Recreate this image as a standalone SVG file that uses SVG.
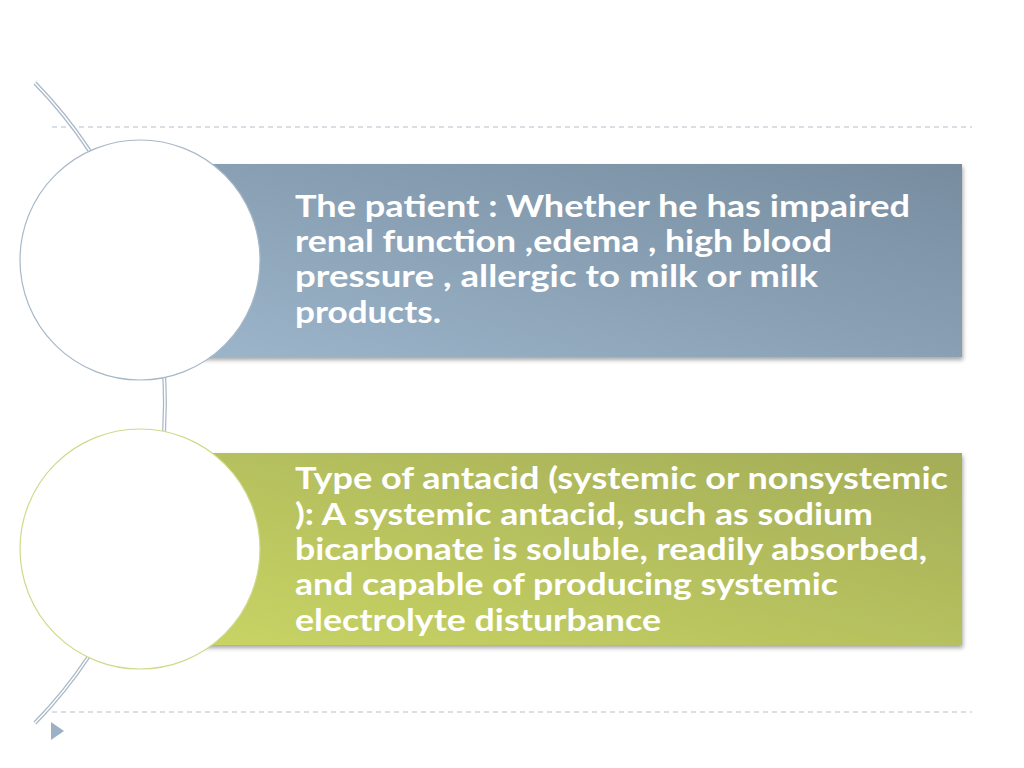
<svg xmlns="http://www.w3.org/2000/svg" width="1024" height="768" viewBox="0 0 1024 768">
<defs>
<linearGradient id="gb" x1="1" y1="0" x2="0" y2="1"><stop offset="0" stop-color="#778c9f"/><stop offset="1" stop-color="#9cb5ca"/></linearGradient>
<linearGradient id="gg" x1="1" y1="0" x2="0" y2="1"><stop offset="0" stop-color="#a4ad58"/><stop offset="1" stop-color="#c8d464"/></linearGradient>
<filter id="sh" x="-5%" y="-5%" width="110%" height="120%"><feDropShadow dx="1" dy="3" stdDeviation="2" flood-color="#000" flood-opacity="0.35"/></filter>
<style>
.t{font-family:Lato,"Open Sans","Liberation Sans",sans-serif;font-weight:bold;font-size:30px;fill:#fff}
.dash{stroke:#b4bfcc;stroke-width:1.2;stroke-dasharray:5 4;fill:none}
</style>
</defs>
<rect width="1024" height="768" fill="#fff"/>
<line class="dash" x1="52" y1="127" x2="972" y2="127"/>
<line class="dash" x1="52" y1="712" x2="972" y2="712"/>
<polygon points="51,722 64,731 51,740" fill="#9cb0c6"/>
<g id="connectors">
<path d="M35,83 A459,459 0 0 1 35,723" fill="none" stroke="#a9b8c8" stroke-width="4"/>
<path d="M35,83 A459,459 0 0 1 35,723" fill="none" stroke="#fff" stroke-width="1.5"/>
</g>
<g id="node1">
<rect x="200" y="164" width="762" height="193" fill="url(#gb)" filter="url(#sh)"/>
<ellipse cx="140" cy="260" rx="120" ry="120" fill="#fff" stroke="#a9b8c8" stroke-width="1.2"/>
<text class="t" lengthAdjust="spacingAndGlyphs"><tspan x="295" y="217" textLength="615" lengthAdjust="spacingAndGlyphs">The patient : Whether he has impaired</tspan><tspan x="295" y="252" textLength="537" lengthAdjust="spacingAndGlyphs">renal function ,edema , high blood</tspan><tspan x="295" y="287" textLength="523" lengthAdjust="spacingAndGlyphs">pressure , allergic to milk or milk</tspan><tspan x="295" y="323" textLength="146" lengthAdjust="spacingAndGlyphs">products.</tspan></text>
</g>
<g id="node2">
<rect x="200" y="453" width="762" height="192" fill="url(#gg)" filter="url(#sh)"/>
<ellipse cx="140" cy="549" rx="120" ry="120" fill="#fff" stroke="#d2d98a" stroke-width="1.2"/>
<text class="t"><tspan x="295" y="489" textLength="653" lengthAdjust="spacingAndGlyphs">Type of antacid (systemic or nonsystemic</tspan><tspan x="295" y="525" textLength="578" lengthAdjust="spacingAndGlyphs">): A systemic antacid, such as sodium</tspan><tspan x="295" y="560" textLength="632" lengthAdjust="spacingAndGlyphs">bicarbonate is soluble, readily absorbed,</tspan><tspan x="295" y="595" textLength="543" lengthAdjust="spacingAndGlyphs">and capable of producing systemic</tspan><tspan x="295" y="631" textLength="366" lengthAdjust="spacingAndGlyphs">electrolyte disturbance</tspan></text>
</g>
</svg>
